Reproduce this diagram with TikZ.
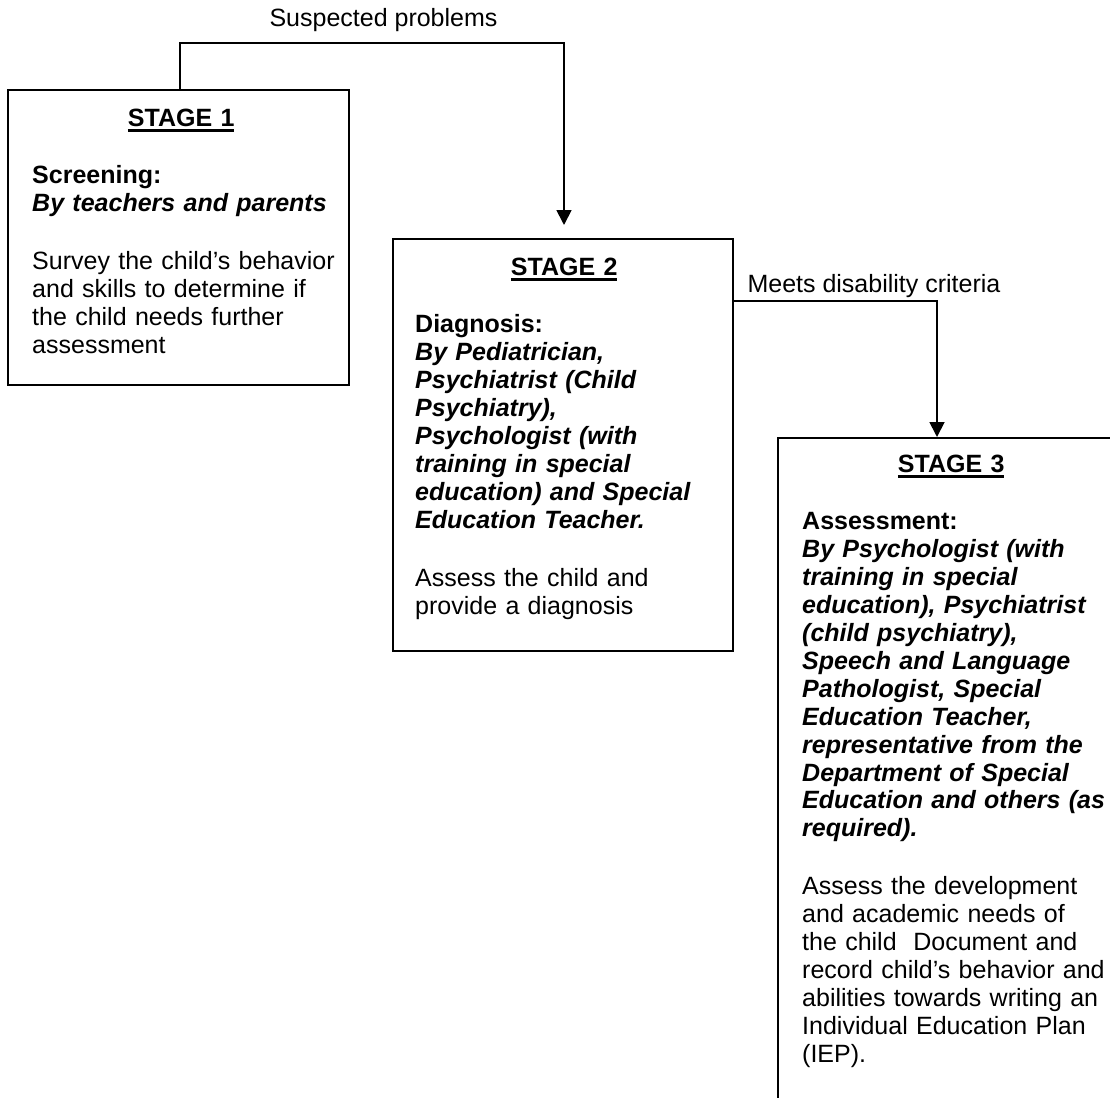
\documentclass[tikz,border=0pt]{standalone}
\usepackage{fontspec}
\setmainfont{Liberation Sans}
\usetikzlibrary{positioning,arrows.meta}
\newcommand{\stagehead}[1]{\makebox[298pt]{\bfseries\setbox0=\hbox{#1}\rlap{\copy0}\rule[-5.5pt]{\wd0}{2.2pt}}}
\tikzset{
  stagebox/.style={draw,line width=1.8pt,anchor=north west,inner sep=0pt,minimum width=340pt},
  stagetext/.style={inner sep=0pt,text width=330pt,align=left,font=\fontsize{25}{27.9}\selectfont},
  link/.style={line width=1.8pt,-{Triangle[width=15pt,length=15pt]}},
}

\begin{document}
\begin{tikzpicture}[x=1pt,y=-1pt]
  \useasboundingbox (0,0) rectangle (1110,1097);
  \clip (0,0) rectangle (1110,1097);
  \node[stagebox,minimum width=341pt,minimum height=295pt] (s1) at (7,89) {};
  \node[stagebox,minimum height=412pt] (s2) at (392,238) {};
  \node[stagebox,minimum height=700pt] (s3) at (777,437) {};
  \node[stagetext,below right=37pt and 25pt of s1.north west,anchor=base west] (t1) {\stagehead{STAGE 1}\\[30pt]
    \textbf{Screening:}\\
    \textbf{\textit{By teachers and parents}}\\[30pt]
    Survey the child's behavior\\
    and skills to determine if\\
    the child needs further\\
    assessment};
  \node[stagetext,below right=37pt and 23pt of s2.north west,anchor=base west] (t2) {\stagehead{STAGE 2}\\[30pt]
    \textbf{Diagnosis:}\\
    \textbf{\textit{By Pediatrician,\\
    Psychiatrist (Child\\
    Psychiatry),\\
    Psychologist (with\\
    training in special\\
    education) and Special\\
    Education Teacher.}}\\[30pt]
    Assess the child and\\
    provide a diagnosis};
  \node[stagetext,below right=35pt and 25pt of s3.north west,anchor=base west] (t3) {\stagehead{STAGE 3}\\[30pt]
    \textbf{Assessment:}\\
    \textbf{\textit{By Psychologist (with\\
    training in special\\
    education), Psychiatrist\\
    (child psychiatry),\\
    Speech and Language\\
    Pathologist, Special\\
    Education Teacher,\\
    representative from the\\
    Department of Special\\
    Education and others (as\\
    required).}}\\[30pt]
    Assess the development\\
    and academic needs of\\
    the child~ Document and\\
    record child's behavior and\\
    abilities towards writing an\\
    Individual Education Plan\\
    (IEP).};
  \draw[link,shorten >=13pt] ([xshift=173pt]s1.north west) -- ++(0,-46) -| ([xshift=172pt]s2.north west);
  \node[anchor=base,font=\fontsize{25}{27.9}\selectfont] (l1) at (383.5,27) {Suspected problems};
  \draw[link] ([yshift=-63pt]s2.north east) -| ([xshift=160pt]s3.north west);
  \node[anchor=base west,font=\fontsize{25}{27.9}\selectfont] (l2) at (744,292) {Meets disability criteria};
\end{tikzpicture}
\end{document}
